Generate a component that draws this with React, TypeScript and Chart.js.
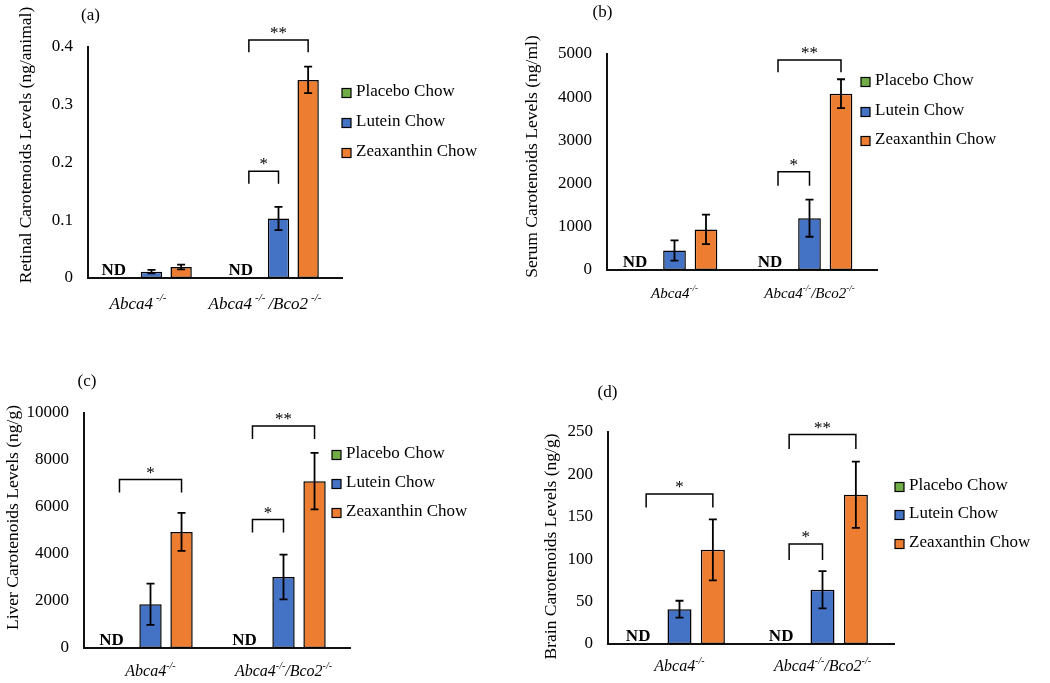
import React, { useEffect, useRef } from "react";
import { Chart, registerables } from "chart.js";

Chart.register(...registerables);

// ---------- data ----------
const categories = ["Abca4-/-", "Abca4-/-/Bco2-/-"];
const seriesNames = ["Placebo Chow", "Lutein Chow", "Zeaxanthin Chow"];
const seriesColors = ["#70AD47", "#4472C4", "#ED7D31"];

// (a) Retina (ng/animal)
const retinalPlacebo = [null, null];
const retinalLutein = [0.011, 0.103];
const retinalLuteinErr = [0.003, 0.02];
const retinalZeaxanthin = [0.019, 0.343];
const retinalZeaxanthinErr = [0.004, 0.023];
const retinalTicks = [0, 0.1, 0.2, 0.3, 0.4];
const retinalBrackets = [
  { cat: 1, from: 0, to: 2, top: 0.412, leg: 0.391, label: "**" },
  { cat: 1, from: 0, to: 1, top: 0.185, leg: 0.163, label: "*" },
];

// (b) Serum (ng/ml)
const serumPlacebo = [null, null];
const serumLutein = [450, 1200];
const serumLuteinErr = [235, 430];
const serumZeaxanthin = [940, 4080];
const serumZeaxanthinErr = [340, 335];
const serumTicks = [0, 1000, 2000, 3000, 4000, 5000];
const serumBrackets = [
  { cat: 1, from: 0, to: 2, top: 4860, leg: 4576, label: "**" },
  { cat: 1, from: 0, to: 1, top: 2276, leg: 1951, label: "*" },
];

// (c) Liver (ng/g)
const liverPlacebo = [null, null];
const liverLutein = [1860, 3020];
const liverLuteinErr = [880, 950];
const liverZeaxanthin = [4940, 7100];
const liverZeaxanthinErr = [810, 1200];
const liverTicks = [0, 2000, 4000, 6000, 8000, 10000];
const liverBrackets = [
  { cat: 0, from: 0, to: 2, top: 7170, leg: 6614, label: "*" },
  { cat: 1, from: 0, to: 2, top: 9447, leg: 8894, label: "**" },
  { cat: 1, from: 0, to: 1, top: 5464, leg: 4911, label: "*" },
];

// (d) Brain (ng/g)
const brainPlacebo = [null, null];
const brainLutein = [41, 64];
const brainLuteinErr = [10, 22];
const brainZeaxanthin = [111, 176];
const brainZeaxanthinErr = [36, 39];
const brainTicks = [0, 50, 100, 150, 200, 250];
const brainBrackets = [
  { cat: 0, from: 0, to: 2, top: 177, leg: 161, label: "*" },
  { cat: 1, from: 0, to: 2, top: 247, leg: 230, label: "**" },
  { cat: 1, from: 0, to: 1, top: 118, leg: 99, label: "*" },
];

// ---------- layout ----------
const SERIF = '"Liberation Serif", "Times New Roman", serif';

const panels = [
  {
    key: "a",
    letter: "(a)",
    title: "Retinal Carotenoids Levels (ng/animal)",
    origin: [0, 0],
    size: [525, 330],
    area: { left: 88, right: 342, top: 47, bottom: 278 },
    ticks: retinalTicks,
    values: [retinalPlacebo, retinalLutein, retinalZeaxanthin],
    errors: [null, retinalLuteinErr, retinalZeaxanthinErr],
    brackets: retinalBrackets,
    letterPos: [90.5, 15.5],
    titlePos: [26, 145],
    legend: { x: 342, ys: [92, 122, 152] },
    xFont: 17,
    xGap: 31,
    xShift: -12,
    supGap: 3,
  },
  {
    key: "b",
    letter: "(b)",
    title: "Serum Carotenoids Levels (ng/ml)",
    origin: [525, 0],
    size: [525, 330],
    area: { left: 607, right: 877, top: 54, bottom: 270 },
    ticks: serumTicks,
    values: [serumPlacebo, serumLutein, serumZeaxanthin],
    errors: [null, serumLuteinErr, serumZeaxanthinErr],
    brackets: serumBrackets,
    letterPos: [602.5, 13],
    titlePos: [532, 156.5],
    legend: { x: 861, ys: [81, 111, 140] },
    xFont: 15,
    xGap: 28,
    xShift: 0,
    supGap: 0,
  },
  {
    key: "c",
    letter: "(c)",
    title: "Liver Carotenoids Levels (ng/g)",
    origin: [0, 330],
    size: [525, 353],
    area: { left: 84, right: 350, top: 413, bottom: 648 },
    ticks: liverTicks,
    values: [liverPlacebo, liverLutein, liverZeaxanthin],
    errors: [null, liverLuteinErr, liverZeaxanthinErr],
    brackets: liverBrackets,
    letterPos: [87, 382],
    titlePos: [13, 517.5],
    legend: { x: 332, ys: [454, 483, 512] },
    xFont: 16,
    xGap: 28,
    xShift: 0,
    supGap: 0,
  },
  {
    key: "d",
    letter: "(d)",
    title: "Brain Carotenoids Levels (ng/g)",
    origin: [525, 330],
    size: [525, 353],
    area: { left: 608, right: 894, top: 432, bottom: 644 },
    ticks: brainTicks,
    values: [brainPlacebo, brainLutein, brainZeaxanthin],
    errors: [null, brainLuteinErr, brainZeaxanthinErr],
    brackets: brainBrackets,
    letterPos: [607.5, 393],
    titlePos: [551, 546.5],
    legend: { x: 895, ys: [486, 514, 543] },
    xFont: 16,
    xGap: 27,
    xShift: 0,
    supGap: 0,
  },
];

function makeAnnotPlugin(p: any) {
  return {
    id: "annot_" + p.key,
    afterDatasetsDraw(chart: any) {
      const ctx: CanvasRenderingContext2D = chart.ctx;
      const ox = p.origin[0];
      const oy = p.origin[1];
      const yScale = chart.scales.y;
      const xScale = chart.scales.x;
      const area = chart.chartArea;
      const metas = [0, 1, 2].map((i) => chart.getDatasetMeta(i));

      ctx.save();
      // error bars
      ctx.strokeStyle = "#000";
      ctx.lineWidth = 1.8;
      p.errors.forEach((errs: number[] | null, d: number) => {
        if (!errs) return;
        metas[d].data.forEach((el: any, i: number) => {
          const v = p.values[d][i];
          if (v == null) return;
          const yTop = yScale.getPixelForValue(v + errs[i]);
          const yBot = yScale.getPixelForValue(v - errs[i]);
          const x = el.x;
          ctx.beginPath();
          ctx.moveTo(x, yTop);
          ctx.lineTo(x, yBot);
          ctx.moveTo(x - 4, yTop);
          ctx.lineTo(x + 4, yTop);
          ctx.moveTo(x - 4, yBot);
          ctx.lineTo(x + 4, yBot);
          ctx.stroke();
        });
      });

      // ND labels
      ctx.fillStyle = "#000";
      ctx.font = "bold 17px " + SERIF;
      ctx.textAlign = "center";
      ctx.textBaseline = "alphabetic";
      p.values[0].forEach((v: any, i: number) => {
        if (v == null) {
          const x = metas[0].data[i].x;
          ctx.fillText("ND", x - 8, area.bottom - 3);
        }
      });

      // significance brackets
      ctx.lineWidth = 1.5;
      ctx.font = "17px " + SERIF;
      p.brackets.forEach((b: any) => {
        const x1 = metas[b.from].data[b.cat].x;
        const x2 = metas[b.to].data[b.cat].x;
        const yt = yScale.getPixelForValue(b.top);
        const yl = yScale.getPixelForValue(b.leg);
        ctx.beginPath();
        ctx.moveTo(x1, yl);
        ctx.lineTo(x1, yt);
        ctx.lineTo(x2, yt);
        ctx.lineTo(x2, yl);
        ctx.stroke();
        ctx.fillText(b.label, (x1 + x2) / 2, yt - 2);
      });

      // category labels with superscripts
      const fs = p.xFont;
      const supFs = Math.round(fs * 0.62);
      categories.forEach((lab, i) => {
        const parts = lab.split(/(-\/-)/).filter((s) => s.length > 0);
        const widths = parts.map((s) => {
          const sup = s === "-/-";
          ctx.font = "italic " + (sup ? supFs : fs) + "px " + SERIF;
          return ctx.measureText(s).width + (sup ? p.supGap * 2 : 0);
        });
        const total = widths.reduce((a, b) => a + b, 0);
        let x = xScale.getPixelForValue(i) - total / 2 + p.xShift;
        const base = area.bottom + p.xGap;
        ctx.textAlign = "left";
        parts.forEach((s, k) => {
          const sup = s === "-/-";
          ctx.font = "italic " + (sup ? supFs : fs) + "px " + SERIF;
          if (sup) {
            ctx.fillText(s, x + p.supGap, base - fs * 0.45);
          } else {
            ctx.fillText(s, x, base);
          }
          x += widths[k];
        });
      });

      // page-positioned texts
      ctx.translate(-ox, -oy);
      // panel letter
      ctx.font = "17px " + SERIF;
      ctx.textAlign = "center";
      ctx.textBaseline = "middle";
      ctx.fillText(p.letter, p.letterPos[0], p.letterPos[1]);

      // y title
      ctx.save();
      ctx.translate(p.titlePos[0], p.titlePos[1]);
      ctx.rotate(-Math.PI / 2);
      ctx.font = "17.5px " + SERIF;
      ctx.fillText(p.title, 0, 0);
      ctx.restore();

      // legend
      ctx.textAlign = "left";
      ctx.font = "17px " + SERIF;
      ctx.lineWidth = 1.2;
      seriesNames.forEach((name, i) => {
        const y = p.legend.ys[i];
        const sx = p.legend.x;
        ctx.fillStyle = seriesColors[i];
        ctx.fillRect(sx, y - 3.5, 9, 9);
        ctx.strokeStyle = "#000";
        ctx.strokeRect(sx, y - 3.5, 9, 9);
        ctx.fillStyle = "#000";
        ctx.fillText(name, sx + 14, y);
      });
      ctx.restore();
    },
  };
}

function Panel({ p }: { p: any }) {
  const ref = useRef<HTMLCanvasElement | null>(null);
  useEffect(() => {
    if (!ref.current) return;
    const [ox, oy] = p.origin;
    const [w, h] = p.size;
    const chart = new Chart(ref.current, {
      type: "bar",
      data: {
        labels: categories,
        datasets: seriesNames.map((name, i) => ({
          label: name,
          data: p.values[i],
          backgroundColor: seriesColors[i],
          borderColor: "#000",
          borderWidth: 1.5,
          borderSkipped: false,
          categoryPercentage: 0.7,
          barPercentage: 0.72,
        })),
      },
      options: {
        responsive: false,
        animation: false,
        layout: {
          padding: {
            left: 0,
            top: p.area.top - oy,
            right: ox + w - p.area.right,
            bottom: oy + h - p.area.bottom,
          },
        },
        plugins: {
          legend: { display: false },
          tooltip: { enabled: false },
          title: { display: false },
        },
        scales: {
          x: {
            type: "category",
            offset: true,
            grid: { display: false, drawTicks: false },
            border: { display: true, color: "#111", width: 2 },
            ticks: { display: false },
            afterFit: (s: any) => {
              s.height = 0;
            },
          },
          y: {
            min: 0,
            max: p.ticks[p.ticks.length - 1],
            grid: { display: false, drawTicks: false },
            border: { display: true, color: "#111", width: 2 },
            afterBuildTicks: (s: any) => {
              s.ticks = p.ticks.map((v: number) => ({ value: v }));
            },
            ticks: {
              padding: 15,
              color: "#000",
              font: { family: SERIF, size: 17 },
              callback: (v: any) => String(v),
            },
            afterFit: (s: any) => {
              s.width = p.area.left - ox;
            },
          },
        },
      },
      plugins: [makeAnnotPlugin(p)],
    } as any);
    return () => chart.destroy();
  }, [p]);
  return (
    <canvas
      ref={ref}
      width={p.size[0]}
      height={p.size[1]}
      style={{
        position: "absolute",
        left: p.origin[0],
        top: p.origin[1],
        width: p.size[0],
        height: p.size[1],
      }}
    />
  );
}

export default function App() {
  return (
    <div
      style={{
        position: "absolute",
        left: 0,
        top: 0,
        width: 1050,
        height: 683,
        background: "#fff",
      }}
    >
      {panels.map((p) => (
        <Panel key={p.key} p={p} />
      ))}
    </div>
  );
}
